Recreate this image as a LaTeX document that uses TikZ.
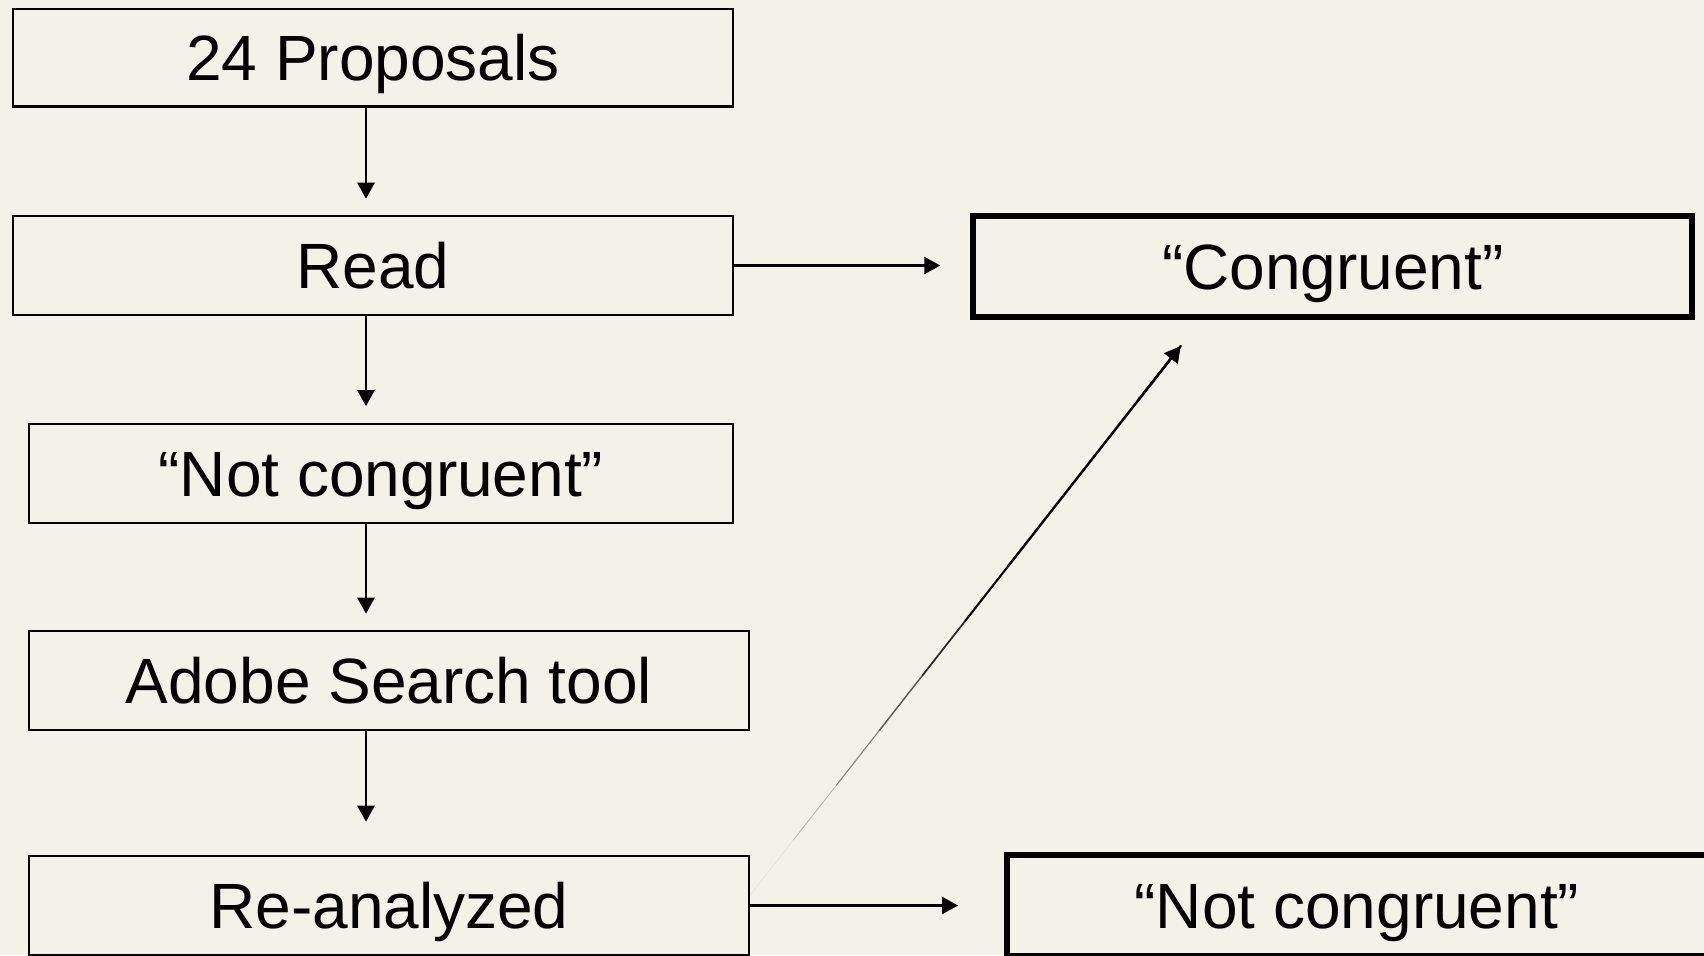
\documentclass[tikz,border=0pt]{standalone}
\usepackage{fontspec}
\setmainfont{Liberation Sans}
\usetikzlibrary{arrows.meta,calc}
\definecolor{paper}{RGB}{242,242,232}
\tikzset{
  stepbox/.style={draw=black, line width=1.3pt, rectangle, inner sep=0pt,
    minimum width=360pt, minimum height=49.5pt,
    font=\fontsize{32}{36}\selectfont, text height=22.9pt, text depth=0pt},
  resultbox/.style={stepbox, line width=3pt, minimum width=359.5pt, minimum height=50.5pt},
  arr/.style={draw=black, line width=1.2pt, -{Triangle[length=8pt,width=8.5pt]}},
}
\begin{document}
\begin{tikzpicture}[x=0.5pt, y=-0.5pt]
  \fill[paper] (0,0) rectangle (1704,955);
  \useasboundingbox (0,0) rectangle (1704,955);
  \clip (0,0) rectangle (1704,955);

  % left column: process steps
  \node[stepbox, minimum height=48.75pt] (p)  at (373,57.75) {24 Proposals};
  \node[stepbox]                         (r)  at (373,265.5) {Read};
  \node[stepbox, minimum width=352pt]    (n)  at (381,473.5) {``Not congruent''};
  \node[stepbox]                         (a)  at (389,680.5) {Adobe Search tool};
  \node[stepbox]                         (re) at (389,905.5) {Re-analyzed};

  % right column: outcomes
  \node[resultbox] (c)  at (1332.75,266.5) {``Congruent''};
  \node[resultbox, minimum width=350pt] (n2) at (1357,905.5) {``Not congruent''};

  % downward flow
  \draw[arr, shorten >=8pt]    ([xshift=-3.5pt]p.south)  -- ([xshift=-3.5pt]p.south |- r.north);
  \draw[arr, shorten >=8.25pt] ([xshift=-3.5pt]r.south)  -- ([xshift=-3.5pt]r.south |- n.north);
  \draw[arr, shorten >=8pt]    ([xshift=-7.5pt]n.south)  -- ([xshift=-7.5pt]n.south |- a.north);
  \draw[arr, shorten >=16.5pt] ([xshift=-11.5pt]a.south) -- ([xshift=-11.5pt]a.south |- re.north);

  % sideways outcomes
  \draw[arr, shorten >=15pt] (r.east)  -- (r.east -| c.west);
  \draw[arr, shorten >=23pt] (re.east) -- (re.east -| n2.west);

  % diagonal from re-analysis up to the congruent outcome, fading in
  \path ([yshift=5.25pt]re.east) coordinate (d0)
        ([xshift=-76pt,yshift=-13pt]c.south) coordinate (d1);
  \foreach \k in {0,...,9} {
    \pgfmathsetmacro\ta{\k/10}
    \pgfmathsetmacro\tb{(\k+1)/10}
    \pgfmathsetmacro\shd{min(100,12+88*\k/5)}
    \pgfmathsetmacro\lw{min(1.2,0.25+0.95*\k/6)}
    \draw[line width=\lw pt, draw=black!\shd, line cap=round]
      ($(d0)!\ta!(d1)$) -- ($(d0)!\tb!(d1)$);
  }
  \draw[arr] ($(d0)!0.9!(d1)$) -- (d1);
\end{tikzpicture}
\end{document}
